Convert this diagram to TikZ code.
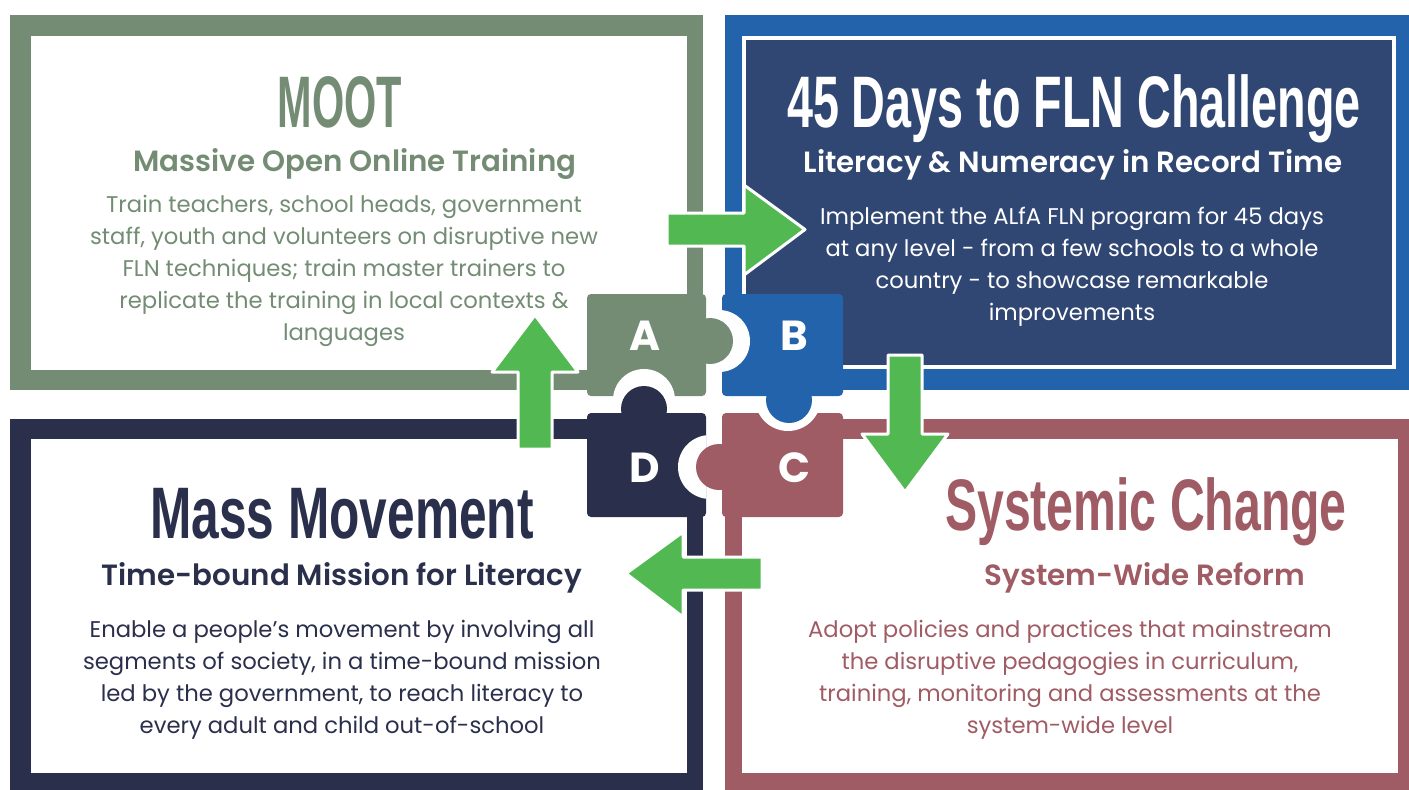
\documentclass[tikz,border=0pt]{standalone}
\usepackage{fontspec}
\setmainfont{Poppins}
\newfontfamily\headfont[FakeStretch=0.66]{Liberation Sans}
\newfontfamily\subfont{Poppins SemiBold}
\definecolor{sage}{RGB}{115,140,115}
\definecolor{royal}{RGB}{35,99,172}
\definecolor{dusk}{RGB}{49,71,115}
\definecolor{ink}{RGB}{42,47,75}
\definecolor{rosewood}{RGB}{160,92,100}
\definecolor{leaf}{RGB}{82,184,82}
\def\hole(#1)(#2)(#3:#4){\begin{scope}\clip (#1) rectangle (#2); \fill[white] (#3) circle (#4pt);\end{scope}}

\begin{document}
\begin{tikzpicture}[x=1pt, y=-1pt,
  headline/.style={font=\headfont\bfseries\fontsize{73}{73}\selectfont, anchor=base, inner sep=0pt},
  tagline/.style={font=\subfont\fontsize{29.3}{29.3}\selectfont, anchor=base, inner sep=0pt},
  blurb/.style={font=\fontsize{22.7}{32}\selectfont, align=center, inner sep=0pt},
  letter/.style={font=\bfseries\fontsize{42}{42}\selectfont, text=white, inner sep=0pt},
  bigarrow/.style={fill=leaf, draw=white, line width=3pt, line join=round}]
  \useasboundingbox (0,0) rectangle (1409,790);

  %%%%% PANELS %%%%%
  \fill[sage] (10,15) rectangle (703,390);
  \fill[white] (31,36) rectangle (687,370);

  \fill[royal] (725,15) rectangle (1409,390);
  \draw[fill=dusk, draw=white, line width=3.5pt] (744,38) rectangle (1394,367);

  \fill[ink] (10,419) rectangle (703,790);
  \fill[white] (31,439) rectangle (687,773);

  \fill[rosewood] (725,419) rectangle (1409,790);
  \fill[white] (742,439) rectangle (1398,773);

  %%%%% TEXTS %%%%%
  \node[headline, text=sage] (mootTitle) at (340,127) {\scalebox{0.86}[1]{MOOT}};
  \node[tagline, text=sage] (mootSub) at (355,171) {Massive Open Online Training};
  \node[blurb, text=sage] (mootText) at (344,271) {Train teachers, school heads, government\\
    staff, youth and volunteers on disruptive new\\
    FLN techniques; train master trainers to\\
    replicate the training in local contexts \&\\
    languages};

  \node[headline, text=white] (daysTitle) at (1074,127) {\scalebox{0.97}[1]{45 Days to FLN Challenge}};
  \node[tagline, text=white] (daysSub) at (1073,172) {Literacy \& Numeracy in Record Time};
  \node[blurb, text=white] (daysText) at (1072,267) {Implement the ALfA FLN program for 45 days\\
    at any level - from a few schools to a whole\\
    country - to showcase remarkable\\
    improvements};

  \node[headline, text=ink] (massTitle) at (342,538) {\scalebox{1.03}[1]{Mass Movement}};
  \node[tagline, text=ink] (massSub) at (342,585) {Time-bound Mission for Literacy};
  \node[blurb, text=ink] (massText) at (342,680) {Enable a people’s movement by involving all\\
    segments of society, in a time-bound mission\\
    led by the government, to reach literacy to\\
    every adult and child out-of-school};

  \node[headline, text=rosewood] (sysTitle) at (1146,530) {Systemic Change};
  \node[tagline, text=rosewood] (sysSub) at (1145,585) {System-Wide Reform};
  \node[blurb, text=rosewood] (sysText) at (1070,680) {Adopt policies and practices that mainstream\\
    the disruptive pedagogies in curriculum,\\
    training, monitoring and assessments at the\\
    system-wide level};

  %%%%% PUZZLE %%%%%
  \fill[sage, rounded corners=4pt] (587,294) rectangle (706,396);
  \fill[royal, rounded corners=4pt] (722,294) rectangle (843,396);
  \fill[ink, rounded corners=4pt] (587,413) rectangle (706,517);
  \fill[rosewood, rounded corners=4pt] (722,413) rectangle (843,517);

  \hole(587,294)(706,396)(644,400:31)
  \hole(722,294)(843,396)(719,341:31)
  \hole(722,413)(843,517)(788,398:33)
  \hole(587,413)(706,517)(710,467:32)

  \fill[sage] (710,341) circle (23pt);
  \fill[royal] (789,400) circle (23pt);
  \fill[rosewood] (719,467) circle (23pt);
  \fill[ink] (644,409) circle (23pt);

  \node[letter] (pieceA) at (645,336) {A};
  \node[letter] (pieceB) at (794,336) {B};
  \node[letter] (pieceC) at (794,468) {C};
  \node[letter] (pieceD) at (645,468) {D};

  %%%%% ARROWS %%%%%
  \draw[bigarrow] (667,213) -- (744,213) -- (744,185) -- (805,229.5) -- (744,275) -- (744,246) -- (667,246) -- cycle;
  \draw[bigarrow] (888,355) -- (922,355) -- (922,434) -- (948,434) -- (905,492) -- (862,434) -- (888,434) -- cycle;
  \draw[bigarrow] (762,557) -- (762,590) -- (683,590) -- (683,617) -- (626,573.5) -- (683,532) -- (683,557) -- cycle;
  \draw[bigarrow] (518,449) -- (518,372) -- (492,372) -- (535,315) -- (578,372) -- (552,372) -- (552,449) -- cycle;

\end{tikzpicture}
\end{document}
